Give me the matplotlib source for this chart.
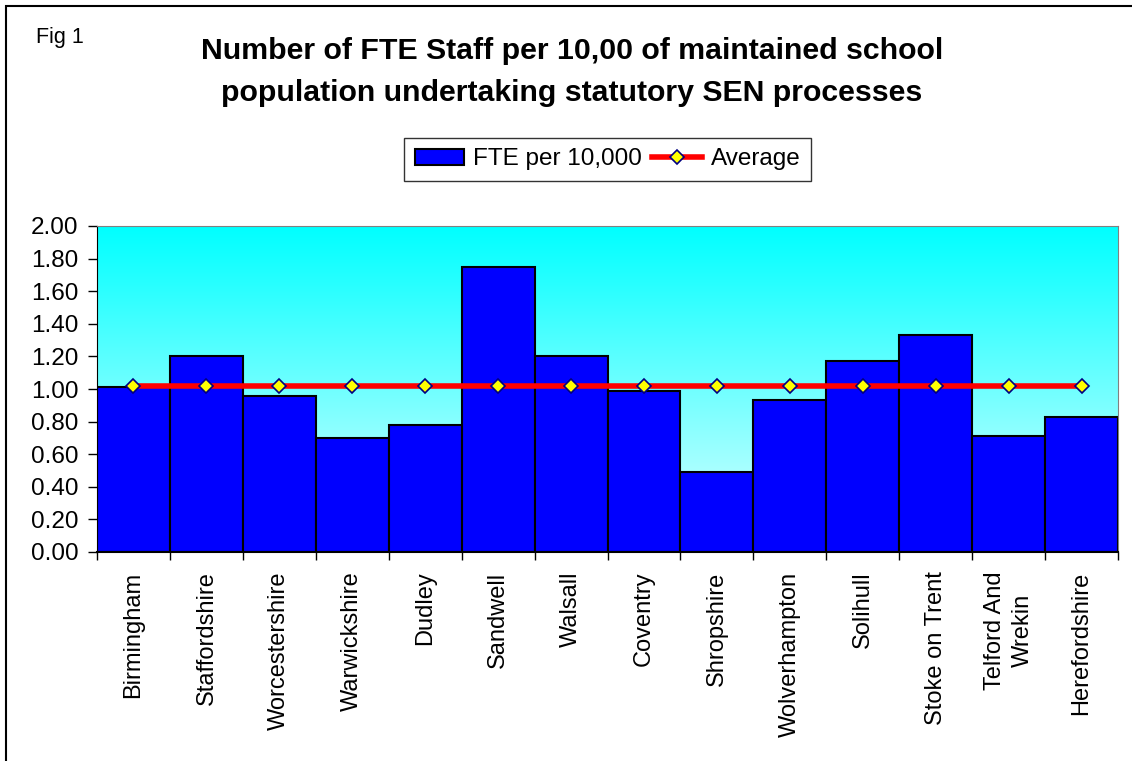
import numpy as np
import matplotlib as mpl
mpl.use("Agg")
import matplotlib.pyplot as plt
from matplotlib.patches import Rectangle

plt.rcParams['font.family'] = ['Liberation Sans', 'DejaVu Sans']

areas = ['Birmingham', 'Staffordshire', 'Worcestershire', 'Warwickshire', 'Dudley',
         'Sandwell', 'Walsall', 'Coventry', 'Shropshire', 'Wolverhampton',
         'Solihull', 'Stoke on Trent', 'Telford And\nWrekin', 'Herefordshire']
fte = [1.01, 1.20, 0.96, 0.70, 0.78, 1.75, 1.20, 0.99, 0.49, 0.935,
       1.17, 1.33, 0.71, 0.83]
average = [1.02] * len(areas)

fig = plt.figure(figsize=(11.32, 7.61), dpi=100)
ax = fig.add_axes([97/1132, 1 - 552/761, (1118-97)/1132, (552-226)/761])

x = np.arange(len(areas))

# gradient background: cyan at top fading towards the bottom
grad = np.linspace(0, 1, 256).reshape(-1, 1)
cmap = mpl.colors.LinearSegmentedColormap.from_list('bg', ['#E0FFFF', '#00FFFF'])
ax.imshow(grad, extent=(-0.5, len(areas) - 0.5, 0, 2), origin='lower',
          aspect='auto', cmap=cmap, zorder=0)

bars = ax.bar(x, fte, width=1.0, color='#0000FF', edgecolor='black', linewidth=1.5,
              label='FTE per 10,000', zorder=2)
line, = ax.plot(x, average, color='#FF0000', linewidth=4, marker='D', markersize=7,
                markerfacecolor='#FFFF00', markeredgecolor='#000080', markeredgewidth=1.2,
                label='Average', zorder=3)

ax.set_xlim(-0.5, len(areas) - 0.5)
ax.set_ylim(0, 2)
yt = np.arange(0, 2.01, 0.2)
ax.set_yticks(yt)
ax.set_yticklabels([f'{v:.2f}' for v in yt], fontsize=17.5)
ax.set_xticks(np.arange(-0.5, len(areas), 1.0))
ax.set_xticklabels([])
ax.set_xticks(x, minor=True)
ax.set_xticklabels(areas, minor=True, rotation=90, fontsize=17,
                   ha='center', va='top', multialignment='center', linespacing=1.35)
ax.tick_params(axis='x', which='minor', length=0, pad=14)
ax.tick_params(axis='x', which='major', direction='out', length=6, width=1)
ax.tick_params(axis='y', direction='out', length=6.5, width=1, pad=7)

for side in ['top', 'right']:
    ax.spines[side].set_color('#808080')
ax.spines['left'].set_color('black')
ax.spines['bottom'].set_color('black')
ax.spines['bottom'].set_linewidth(1.5)

fig.text(36/1132, 1 - 38/761, 'Fig 1', fontsize=15.5, va='center', ha='left')
fig.text(572/1132, 1 - 72/761,
         'Number of FTE Staff per 10,00 of maintained school\npopulation undertaking statutory SEN processes',
         fontsize=21.8, fontweight='bold', ha='center', va='center', linespacing=1.6)

leg = ax.legend([bars, line], ['FTE per 10,000', 'Average'], loc='center',
                bbox_to_anchor=(0.5, 1 + (226 - 159.5) / (552 - 226)),
                ncol=2, fontsize=17.5, frameon=True, fancybox=False, handlelength=2.05,
                handleheight=0.6, handletextpad=0.37, columnspacing=0.4,
                borderpad=0.45, borderaxespad=0)
leg.get_frame().set_edgecolor('black')
leg.get_frame().set_linewidth(1)

# outer chart border
fig.patches.append(Rectangle((6/1132, -0.01), 1.02, 1 - 6/761 + 0.01,
                             transform=fig.transFigure, fill=False,
                             edgecolor='black', linewidth=1.5))

fig.savefig('out.png', dpi=100)
